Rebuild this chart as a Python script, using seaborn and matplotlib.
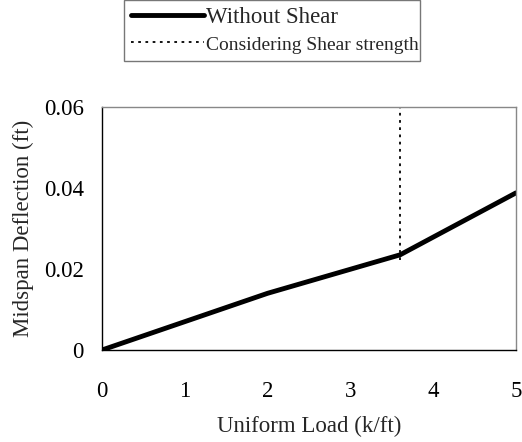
import matplotlib
matplotlib.use("Agg")
import matplotlib.pyplot as plt
import seaborn as sns
import pandas as pd

load = [0, 2, 3.6, 5]
deflection = [0, 0.014, 0.0235, 0.0388]
shear_load = [3.6, 3.6]
shear_defl = [0.0222, 0.06]

sns.set_theme(style="white")
plt.rcParams['font.family'] = ['Liberation Serif', 'DejaVu Serif']

FS = 16.5
fig = plt.figure(figsize=(5.22, 4.42), dpi=100)
ax = fig.add_axes([102/522, 1-350/442, (516-102)/522, (350-107)/442])

df1 = pd.DataFrame({"x": load, "y": deflection})
df2 = pd.DataFrame({"x": shear_load, "y": shear_defl})
sns.lineplot(data=df1, x="x", y="y", ax=ax, color="black", lw=3.5, label="Without Shear",
             sort=False, estimator=None)
sns.lineplot(data=df2, x="x", y="y", ax=ax, color="black", lw=1.3, ls=(0, (1.5, 2.5)),
             label="Considering Shear strength", sort=False, estimator=None)

ax.set_xlim(0, 5)
ax.set_ylim(0, 0.06)
ax.set_xticks([0, 1, 2, 3, 4, 5])
ax.set_yticks([0, 0.02, 0.04, 0.06])
ax.set_yticklabels(["0", "0.02", "0.04", "0.06"])
ax.tick_params(axis="both", direction="in", length=5, width=0.8, colors="black", labelsize=FS)
ax.tick_params(axis="x", pad=22)
ax.tick_params(axis="y", pad=13)
ax.set_xlabel("Uniform Load (k/ft)", fontsize=FS, labelpad=10)
ax.set_ylabel("Midspan Deflection (ft)", fontsize=FS, labelpad=7)
for s in ["left", "bottom"]:
    ax.spines[s].set_color("black")
    ax.spines[s].set_linewidth(1.0)
for s in ["top", "right"]:
    ax.spines[s].set_color("#888888")
    ax.spines[s].set_linewidth(1.0)

ax.get_legend().remove()
h, l = ax.get_legend_handles_labels()
leg = fig.legend(h, l, loc="upper left", bbox_to_anchor=(124/522, 1-62/442, 296/522, 62/442),
                 mode="expand", fontsize=FS, frameon=True, fancybox=False, handlelength=3.2,
                 handletextpad=0.1, borderaxespad=0, borderpad=0.3, labelspacing=0.25)
leg.get_texts()[1].set_fontsize(14)
leg.get_frame().set_edgecolor("#555555")
leg.get_frame().set_linewidth(1.0)

fig.savefig("out.png", dpi=100)
